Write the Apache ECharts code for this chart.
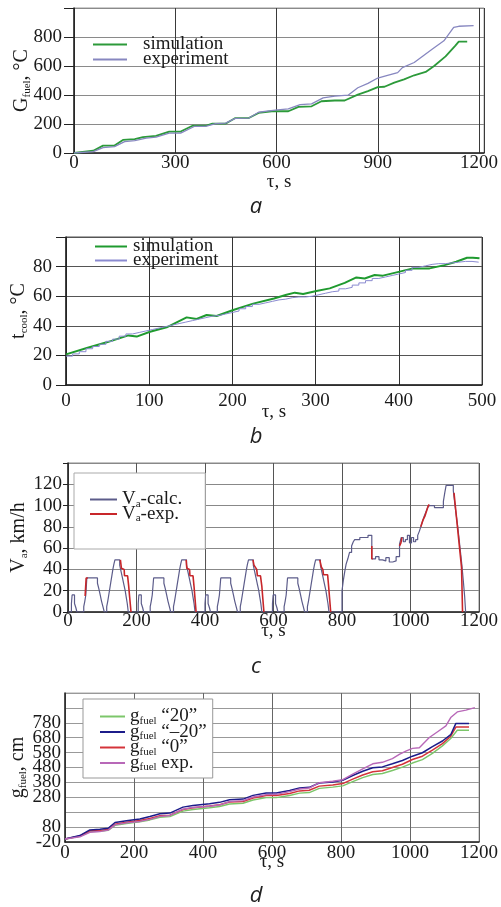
<!DOCTYPE html>
<html>
<head>
    <meta charset="utf-8" />
    <title>Fuel, coolant and speed curves</title>
    <script src="https://cdn.jsdelivr.net/npm/echarts@6/dist/echarts.min.js"></script>
    <style>
        html, body { margin: 0; padding: 0; background: #fff; }
        #main { width: 501px; height: 907px; }
    </style>
</head>
<body>
    <div id="main"></div>
    <script type="text/javascript">
        // ---- a: fuel consumption, [time s, value]
        var aSimulation = [[0,0],[57,16],[86,51],[120,51],[145,90],[180,95],[204,109],[243,118],[282,148],[316,148],[351,188],[390,188],[410,202],[449,202],[478,241],[518,241],[547,276],[586,288],[635,288],[665,318],[704,322],[733,357],[773,362],[802,362],[841,403],[871,427],[900,454],[920,457],[949,485],[978,508],[1008,536],[1042,559],[1067,600],[1101,666],[1130,740],[1140,768],[1165,768]];
        var aExperiment = [[0,0],[57,9],[86,37],[120,44],[150,79],[180,86],[214,102],[243,109],[282,137],[316,137],[356,183],[390,183],[420,202],[449,206],[478,239],[518,241],[547,281],[596,295],[635,304],[670,334],[704,339],[738,380],[773,392],[812,399],[841,450],[871,480],[900,517],[929,536],[959,554],[973,589],[1008,624],[1032,666],[1062,717],[1096,774],[1125,867],[1140,874],[1184,879]];

        // ---- b: coolant temperature
        var bSimulation = [[0,20.7],[25,25],[50,29],[75,33.5],[85,32.7],[101,36],[121,39],[145,45.7],[157,44.6],[169,47.3],[181,46.6],[201,50.7],[225,55],[250,58.5],[265,61],[275,62.4],[285,61.5],[301,63.5],[317,65.3],[335,69],[349,72.7],[359,72],[371,74.3],[381,73.9],[401,76.6],[417,78.8],[437,78.8],[455,81],[469,83.3],[482,86],[489,86],[497,85.6]];
        var bExperiment = [[0,19.5],[8,21],[16,22.5],[24,24.5],[32,26],[40,27.5],[48,29.5],[56,31],[64,33],[72,34.5],[80,35.5],[88,36.5],[96,37.5],[104,38.5],[112,39.5],[120,40.5],[128,41.5],[136,42.5],[144,43.5],[152,44.5],[160,45.5],[168,46.5],[176,47],[184,48],[192,49],[200,50],[208,51.5],[216,53],[224,54.5],[232,55.5],[240,56.5],[248,57.5],[256,58],[264,59],[272,59.5],[280,59.5],[288,60],[296,61],[304,62],[312,63],[320,63.5],[328,65],[336,66],[344,67.5],[352,69],[360,70.5],[368,72],[376,73],[384,74],[392,75],[400,76],[408,77.5],[416,79.5],[424,80.5],[432,81.5],[440,82],[448,82],[456,82.5],[464,83],[472,83.5],[480,83.5],[488,83],[496,83]];

        // ---- c: vehicle speed (calc is a step line: at t the speed becomes v)
        var cCalc = [[0,0],[10,8],[12,16],[19,8],[23,4],[26,0],
            [46,5],[49,10],[52,16],[55,32],[86,27],[90,22],[94,16],[98,10],[102,5],[106,0],
            [113,5],[116,10],[119,16],[122,22],[125,28],[128,34],[131,40],[134,45],[137,49],[151,44],[155,38],[159,32],[163,26],[167,20],[170,14],[173,8],[176,0],
            [205,8],[207,16],[214,8],[218,4],[221,0],
            [240,5],[243,10],[246,16],[250,32],[280,27],[284,22],[288,16],[292,10],[296,5],[300,0],
            [308,5],[311,10],[314,16],[317,22],[320,28],[323,34],[326,40],[329,45],[332,49],[346,44],[350,38],[354,32],[358,26],[362,20],[365,14],[368,8],[371,0],
            [400,8],[402,16],[409,8],[413,4],[416,0],
            [436,5],[439,10],[442,16],[446,32],[475,27],[479,22],[483,16],[487,10],[491,5],[495,0],
            [503,5],[506,10],[509,16],[512,22],[515,28],[518,34],[521,40],[524,45],[527,49],[541,44],[545,38],[549,32],[553,26],[557,20],[560,14],[563,8],[566,0],
            [597,8],[599,16],[606,8],[610,4],[613,0],
            [631,5],[634,10],[637,16],[641,32],[671,27],[675,22],[679,16],[683,10],[687,5],[691,0],
            [699,5],[702,10],[705,16],[708,22],[711,28],[714,34],[717,40],[720,45],[723,49],[737,44],[741,38],[745,32],[749,26],[753,20],[756,14],[759,8],[762,0],
            [800,20],[804,30],[808,38],[812,45],[817,50],[822,56],[828,62],[833,66],[837,68],[852,70],[876,72],[887,50],[898,52],[908,49],[918,48],[928,51],[938,47],[948,48],[958,52],[968,64],[973,70],[979,66],[985,68],[991,72],[997,65],[1003,70],[1009,66],[1015,68],[1021,72],[1026,76],[1030,80],[1035,85],[1040,90],[1045,94],[1050,98],[1055,100],[1070,98],[1090,98],[1096,104],[1100,112],[1104,119],[1125,114],[1130,100],[1134,90],[1138,80],[1142,68],[1146,56],[1150,44],[1154,30],[1158,15],[1161,0]];
        var cExpSegments = [
            [[50,15],[53,15],[53,32],[58,32]],
            [[153,49],[156,41],[164,40],[165,34],[174,34],[177,25],[180,14],[184,0]],
            [[345,49],[347,41],[355,40],[356,34],[365,34],[368,24],[371,12],[374,0]],
            [[540,49],[543,44],[551,40],[553,34],[562,34],[566,24],[569,12],[572,0]],
            [[735,49],[740,42],[744,40],[746,35],[758,35],[761,24],[764,12],[767,0]],
            [[887,62],[887,50],[890,50]],
            [[968,62],[972,65],[975,70]],
            [[1030,80],[1036,86],[1042,90],[1048,96],[1052,100],[1055,101]],
            [[1127,112],[1149,42],[1152,0]]
        ];

        // ---- d: fuel consumption for three settings + experiment
        var dPlus20 = [[0,0],[43,18],[72,50],[101,52],[125,58],[145,92],[178,104],[217,115],[246,128],[275,146],[304,150],[342,187],[371,198],[419,210],[448,218],[477,235],[516,240],[545,262],[583,278],[612,278],[651,292],[680,308],[708,312],[737,340],[776,348],[805,357],[834,385],[863,412],[892,433],[920,440],[949,460],[978,482],[1007,510],[1036,533],[1065,575],[1094,625],[1118,675],[1137,730],[1171,730]];
        var dMinus20 = [[0,0],[43,23],[72,61],[101,66],[125,72],[145,111],[178,122],[217,135],[246,151],[275,169],[304,174],[342,214],[371,225],[419,237],[448,246],[477,264],[516,268],[545,293],[583,309],[612,309],[651,325],[680,343],[708,347],[737,376],[776,383],[805,394],[834,426],[863,455],[892,478],[920,484],[949,505],[978,527],[1007,556],[1036,579],[1065,620],[1094,658],[1118,700],[1133,776],[1171,776]];
        var dZero = [[0,0],[43,20],[72,55],[101,58],[125,64],[145,100],[178,112],[217,124],[246,138],[275,156],[304,160],[342,198],[371,210],[419,222],[448,230],[477,248],[516,252],[545,275],[583,292],[612,292],[651,306],[680,323],[708,327],[737,355],[776,362],[805,372],[834,402],[863,430],[892,452],[920,458],[949,480],[978,502],[1007,534],[1036,556],[1065,597],[1094,640],[1118,690],[1133,751],[1171,751]];
        var dExp = [[0,0],[43,15],[72,45],[101,50],[125,60],[145,95],[178,108],[217,118],[246,132],[275,152],[304,158],[342,200],[371,212],[419,220],[448,228],[477,252],[516,258],[545,282],[583,298],[612,300],[651,318],[680,336],[708,342],[737,378],[776,388],[805,398],[834,435],[863,470],[892,505],[920,515],[949,540],[969,568],[988,590],[1007,608],[1027,613],[1056,681],[1080,720],[1104,759],[1118,815],[1137,853],[1162,865],[1188,882]];
        var dTickLabels = [-20, 80, 280, 380, 480, 580, 680, 780];

        var legendLabels = {
            a_sim: '{m|simulation}', a_exp: '{m|experiment}',
            b_sim: '{m|simulation}', b_exp: '{m|experiment}',
            c_calc: '{m|V}{s|a}{m|-calc.}', c_exp: '{m|V}{s|a}{m|-exp.}',
            d_p20: '{m|g}{s|fuel}{m| \u201c20\u201d}', d_m20: '{m|g}{s|fuel}{m| \u201c\u201320\u201d}',
            d_zero: '{m|g}{s|fuel}{m| \u201c0\u201d}', d_exp: '{m|g}{s|fuel}{m| exp.}'
        };
        var captions = ['a', 'b', 'c', 'd'];

        var FONT = 'Liberation Serif';
        var INK = '#1a1a1a';

        // axis names: main text + subscript pushed to the line bottom
        var nameRich = {
            m: { fontFamily: FONT, fontSize: 20, lineHeight: 22, color: INK },
            s: { fontFamily: FONT, fontSize: 11, lineHeight: 8, verticalAlign: 'bottom', color: INK }
        };
        // legend text: subscript lowered with a top padding
        var legendRich = {
            m: { fontFamily: FONT, fontSize: 19, color: INK },
            s: { fontFamily: FONT, fontSize: 11, padding: [9, 0, 0, 0], color: INK }
        };

        function makeX(idx, max, interval, margin, gap, gridColor) {
            return {
                type: 'value', gridIndex: idx, min: 0, max: max, interval: interval,
                name: '\u03c4, s', nameLocation: 'middle', nameGap: gap, nameMoveOverlap: false,
                nameTextStyle: { fontFamily: FONT, fontSize: 19, color: INK },
                axisLine: { show: true, onZero: false, lineStyle: { color: '#222', width: 1.5 } },
                axisTick: { show: false },
                axisLabel: {
                    margin: margin, fontFamily: FONT, fontSize: 19, color: INK,
                    showMinLabel: true, hideOverlap: false,
                    formatter: function (v) { return v % interval === 0 && v <= max ? String(v) : ''; }
                },
                splitLine: { show: true, lineStyle: { color: gridColor, width: 1 } }
            };
        }

        function makeY(idx, min, max, interval, name, gap, tickLen, margin, gridColor, labelFn, showMin) {
            return {
                type: 'value', gridIndex: idx, min: min, max: max, interval: interval, position: 'left',
                name: name, nameLocation: 'middle', nameGap: gap, nameRotate: 90, nameMoveOverlap: false,
                nameTextStyle: { rich: nameRich },
                axisLine: { show: true, onZero: false, lineStyle: { color: '#222', width: 1.5 } },
                axisTick: { show: tickLen > 0, length: tickLen, lineStyle: { color: '#222' } },
                axisLabel: {
                    margin: margin, fontFamily: FONT, fontSize: 19, color: INK,
                    showMinLabel: showMin, hideOverlap: false, formatter: labelFn
                },
                splitLine: { show: true, lineStyle: { color: gridColor, width: 1 } }
            };
        }

        function lineSeries(name, data, xi, color, width, step) {
            return {
                name: name, type: 'line', xAxisIndex: xi, yAxisIndex: xi, data: data,
                showSymbol: false, symbol: 'none', step: step || false,
                color: color, itemStyle: { color: color },
                lineStyle: { color: color, width: width }
            };
        }

        function makeLegend(names, left, top, itemWidth, gap, textPad, box) {
            var lg = {
                orient: 'vertical', left: left, top: top, data: names,
                icon: 'rect', itemWidth: itemWidth, itemHeight: 2, itemGap: gap,
                selectedMode: false, padding: 0,
                formatter: function (n) { return legendLabels[n]; },
                textStyle: { padding: [0, 0, 0, textPad], rich: legendRich }
            };
            if (box) {
                lg.padding = box.padding;
                lg.backgroundColor = '#fff';
                lg.borderColor = box.border;
                lg.borderWidth = 1;
            }
            return lg;
        }

        var series = [
            lineSeries('a_sim', aSimulation, 0, '#2c9a3a', 1.8),
            lineSeries('a_exp', aExperiment, 0, '#8787c0', 1.3),
            lineSeries('b_sim', bSimulation, 1, '#1f9a2f', 2),
            lineSeries('b_exp', bExperiment, 1, '#8a8ad0', 1, 'end'),
            lineSeries('c_calc', cCalc, 2, '#5c5c8a', 1.2, 'end')
        ];
        cExpSegments.forEach(function (seg) {
            series.push(lineSeries('c_exp', seg, 2, '#c8262a', 1.6));
        });
        series.push(lineSeries('d_p20', dPlus20, 3, '#7cc66a', 1.4));
        series.push(lineSeries('d_zero', dZero, 3, '#d4343a', 1.5));
        series.push(lineSeries('d_m20', dMinus20, 3, '#1c1c8a', 1.5));
        series.push(lineSeries('d_exp', dExp, 3, '#b868b8', 1.4));

        var captionY = [207, 437, 667, 896];
        var graphics = captions.map(function (c, i) {
            return {
                type: 'text', x: 256, y: captionY[i],
                style: { text: c, font: 'italic 22px "Open Sans"', fill: '#222', align: 'center', verticalAlign: 'middle' }
            };
        });

        // d: the tick labels sit only 15px apart, so the lowest one is carried by an overlay axis
        var dLabelFn = function (v) {
            var r = Math.round(v);
            return r !== -20 && dTickLabels.indexOf(r) >= 0 ? String(r) : '';
        };
        var dMinAxis = makeY(3, -20, 980, 100, '', 0, 0, 4, '#999',
            function (v) { return Math.round(v) === -20 ? '-20' : ''; }, true);
        dMinAxis.axisLine = { show: false };
        dMinAxis.splitLine = { show: false };

        var option = {
            animation: false,
            backgroundColor: '#fff',
            grid: [
                { left: 74, right: 14, top: 8, bottom: 754, show: true, borderColor: '#9a9a9a', borderWidth: 1 },
                { left: 66, right: 19, top: 237, bottom: 522, show: true, borderColor: '#555', borderWidth: 1 },
                { left: 68, right: 20, top: 463, bottom: 295, show: true, borderColor: '#888', borderWidth: 1 },
                { left: 65, right: 21, top: 693, bottom: 65, show: true, borderColor: '#aaa', borderWidth: 1 }
            ],
            xAxis: [
                makeX(0, 1215, 300, 1, 20, '#3a3a3a'),
                makeX(1, 500, 100, 7, 18, '#333'),
                makeX(2, 1200, 200, 0, 10, '#555'),
                makeX(3, 1200, 200, 2, 11, '#666')
            ],
            yAxis: [
                makeY(0, 0, 1000, 200, '{m|G}{s|fuel}{m|, \u00b0C}', 41, 10, 12, '#8a8a8a',
                    function (v) { return v < 1000 ? String(v) : ''; }, true),
                makeY(1, 0, 100, 20, '{m|t}{s|cool}{m|, \u00b0C}', 36, 10, 14, '#555',
                    function (v) { return v < 100 ? String(v) : ''; }, true),
                makeY(2, 0, 140, 20, '{m|V}{s|a}{m|, km/h}', 38, 5, 6, '#888',
                    function (v) { return v < 140 ? String(v) : ''; }, true),
                makeY(3, -20, 980, 100, '{m|g}{s|fuel}{m|, cm}', 36, 0, 4, '#999', dLabelFn, false),
                dMinAxis
            ],
            legend: [
                makeLegend(['a_sim', 'a_exp'], 93, 35, 34, -4, 11),
                makeLegend(['b_sim', 'b_exp'], 95, 237, 32, -5, 1),
                makeLegend(['c_calc', 'c_exp'], 74, 473, 27, -5, 0, { padding: [17, 23, 25, 16], border: '#aaa' }),
                makeLegend(['d_p20', 'd_m20', 'd_zero', 'd_exp'], 83, 699, 25, -4, 0, { padding: [8, 6, 5, 17], border: '#999' })
            ],
            graphic: graphics,
            series: series
        };

        var myChart = echarts.init(document.getElementById('main'));
        myChart.setOption(option);
    </script>
</body>
</html>
